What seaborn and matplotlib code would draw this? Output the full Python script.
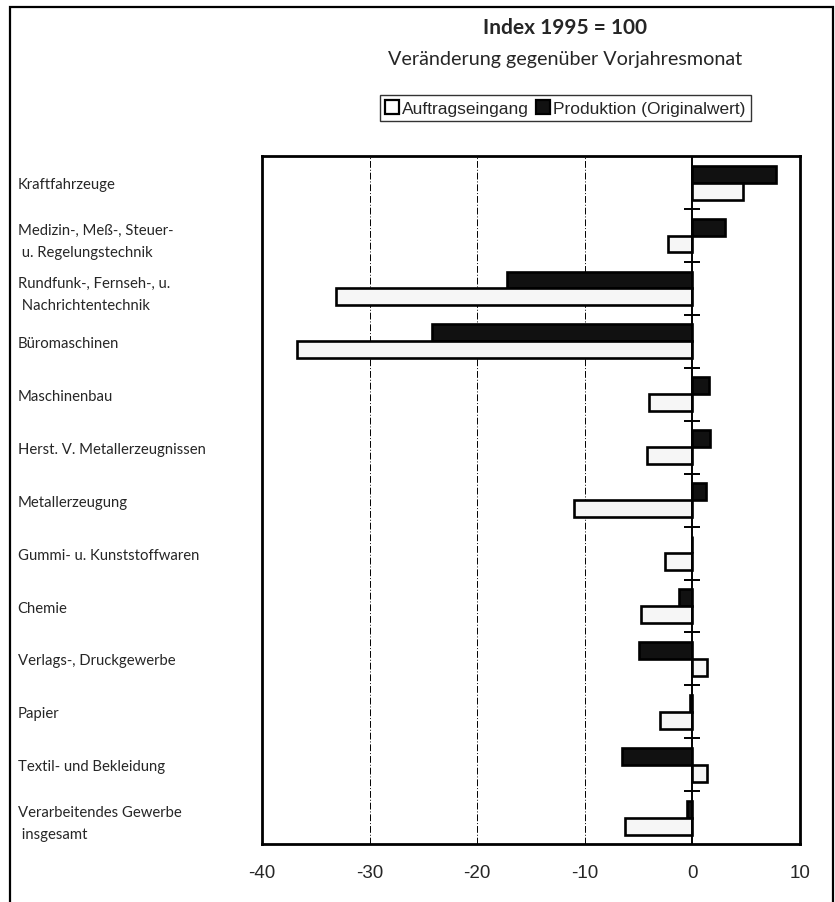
import numpy as np
import pandas as pd
import matplotlib
matplotlib.use("Agg")
import matplotlib.pyplot as plt
from matplotlib.patches import Patch, Rectangle
import seaborn as sns

BRANCHEN = [
    "Kraftfahrzeuge",
    "Medizin-, Meß-, Steuer-\n u. Regelungstechnik",
    "Rundfunk-, Fernseh-, u.\n Nachrichtentechnik",
    "Büromaschinen",
    "Maschinenbau",
    "Herst. V. Metallerzeugnissen",
    "Metallerzeugung",
    "Gummi- u. Kunststoffwaren",
    "Chemie",
    "Verlags-, Druckgewerbe",
    "Papier",
    "Textil- und Bekleidung",
    "Verarbeitendes Gewerbe\n insgesamt",
]
PRODUKTION = [7.8, 3.0, -17.2, -24.2, 1.5, 1.6, 1.3, 0.0, -1.2, -5.0, -0.2, -6.5, -0.5]
AUFTRAG = [4.7, -2.3, -33.1, -36.8, -4.0, -4.2, -11.0, -2.5, -4.8, 1.4, -3.0, 1.4, -6.3]
X_TICKS = [-40, -30, -20, -10, 0, 10]

S_AUF = "Auftragseingang"
S_PROD = "Produktion (Originalwert)"

df = pd.DataFrame({
    "Branche": BRANCHEN * 2,
    "Wert": PRODUKTION + AUFTRAG,
    "Reihe": [S_PROD] * len(BRANCHEN) + [S_AUF] * len(BRANCHEN),
})

sns.set_style("white")
plt.rcParams["font.family"] = ["Lato", "DejaVu Sans"]

fig = plt.figure(figsize=(8.35, 9.03), dpi=100)
ax = fig.add_axes([0.314, 0.064, 0.644, 0.762])

sns.barplot(
    data=df, x="Wert", y="Branche", hue="Reihe",
    hue_order=[S_PROD, S_AUF], order=BRANCHEN,
    palette={S_PROD: "#111111", S_AUF: "#f6f6f6"},
    edgecolor="black", linewidth=1.9, width=0.64,
    errorbar=None, orient="h", legend=False, ax=ax,
)

ax.set_xlim(X_TICKS[0], X_TICKS[-1])
ax.set_ylim(len(BRANCHEN) - 0.5, -0.5)
ax.set_xticks(X_TICKS)
ax.set_xticklabels([str(t) for t in X_TICKS], family="Liberation Sans", fontsize=13.5)
ax.tick_params(axis="x", length=0, pad=14)
ax.set_xlabel("")
ax.set_ylabel("")

# dashed grid lines, solid zero axis with small separators
for t in X_TICKS[1:-2]:
    ax.axvline(t, color="black", lw=0.7, ls=(0, (7, 2, 1, 2)), zorder=0)
ax.axvline(0, color="black", lw=1.4, zorder=3)
sep = np.arange(len(BRANCHEN) - 1) + 0.5
ax.plot(np.zeros_like(sep), sep, ls="none", marker="_", ms=11, mew=1.4,
        color="black", zorder=4)

ax.set_yticks(range(len(BRANCHEN)))
ax.set_yticklabels(BRANCHEN, fontsize=10.7, linespacing=1.75)
ax.tick_params(axis="y", length=0, pad=176)
for lab in ax.get_yticklabels():
    lab.set_horizontalalignment("left")

for sp in ax.spines.values():
    sp.set_visible(True)
    sp.set_color("black")
    sp.set_linewidth(2)

fig.text(0.677, 0.969, "Index 1995 = 100", ha="center", va="center",
         fontsize=15, fontweight="bold")
fig.text(0.677, 0.934, "Veränderung gegenüber Vorjahresmonat", ha="center",
         va="center", fontsize=14.2)

handles = [Patch(facecolor="white", edgecolor="black", lw=1.6),
           Patch(facecolor="#111111", edgecolor="black", lw=1.6)]
leg = fig.legend(handles, [S_AUF, S_PROD], loc="center", bbox_to_anchor=(0.677, 0.879),
                 ncol=2, frameon=True, fancybox=False, handlelength=0.8,
                 handleheight=0.8, handletextpad=0.2, columnspacing=0.4,
                 borderpad=0.3, prop={"family": "Liberation Sans", "size": 12.5})
leg.get_frame().set_edgecolor("black")
leg.get_frame().set_linewidth(1.0)

fig.patches.append(Rectangle((0.012, -0.05), 0.986, 1.041, transform=fig.transFigure,
                             fill=False, edgecolor="black", lw=1.6))

fig.savefig("out.png", dpi=100)
